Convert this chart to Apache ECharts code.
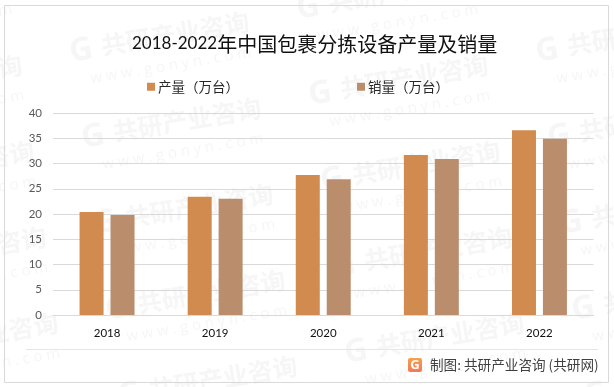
<!DOCTYPE html>
<html>
<head>
<meta charset="utf-8">
<style>html,body{margin:0;padding:0;background:#fff}#c{width:614px;height:387px}</style>
<script src="https://cdn.jsdelivr.net/npm/echarts@6/dist/echarts.min.js"></script>
</head>
<body>
<div id="c"></div>
<script>
const categories = ['2018', '2019', '2020', '2021', '2022'];
const production = [20.4, 23.4, 27.7, 31.7, 36.6];
const sales = [19.8, 23.0, 26.9, 30.9, 34.9];
const nameProduction = '产量（万台）';
const nameSales = '销量（万台）';
const yTicks = { min: 0, max: 40, interval: 5 };
const titleLatin = '2018-2022';
const titleCjk = '年中国包裹分拣设备产量及销量';
const creditText = '制图: 共研产业咨询 (共研网)';
const wmBrand = '共研产业咨询';
const wmSite = 'w w w . g o n y n . c o m';

const CJK = '"Noto Sans CJK SC"';
const chart = echarts.init(document.getElementById('c'), null, { renderer: 'canvas' });

function watermark(x, y) {
  const col = '#f6f6f6';
  return {
    type: 'group', x, y, rotation: 0.165, silent: true, z: -1,
    children: [
      { type: 'text', x: -10, y: -18, style: { text: 'G', font: 'bold 32px "Open Sans"', fill: col } },
      { type: 'text', x: 22, y: -16, style: { text: wmBrand, font: 'bold 25px ' + CJK, fill: col } },
      { type: 'text', x: 6, y: 20, style: { text: wmSite, font: '15px "Open Sans"', fill: col } }
    ]
  };
}
const marks = [];
for (let i = -2; i <= 4; i++) {
  for (let j = -2; j <= 6; j++) {
    const x = 80 + 227 * i + 12 * j;
    const y = 53 - 43 * i + 86 * j;
    if (x > -200 && x < 640 && y > -40 && y < 430) {
      marks.push(watermark(x, y));
    }
  }
}

chart.setOption({
  animation: false,
  backgroundColor: '#fff',
  title: {
    text: '{a|' + titleLatin + '}{b|' + titleCjk + '}',
    left: 127, top: 26,
    textStyle: {
      fontWeight: 'normal',
      rich: {
        a: { fontFamily: 'Lato', fontSize: 17, fontWeight: 'normal', color: '#111', height: 26 },
        b: { fontFamily: CJK, fontSize: 20, fontWeight: 'normal', color: '#111', height: 26 }
      }
    }
  },
  legend: {
    left: 147, top: 80, padding: 0,
    itemWidth: 8, itemHeight: 8, itemGap: 118,
    icon: 'rect',
    textStyle: { fontFamily: CJK, fontSize: 13.5, color: '#262626', padding: [0, 0, 0, -2] },
    data: [nameProduction, nameSales]
  },
  grid: { left: 53, right: 20.5, top: 113, bottom: 72, containLabel: false },
  xAxis: {
    type: 'category', data: categories,
    axisTick: { show: false },
    axisLine: { lineStyle: { color: '#d9d9d9', width: 1 } },
    axisLabel: { fontFamily: 'Lato', fontSize: 11.5, color: '#111', margin: 12 }
  },
  yAxis: {
    type: 'value', min: yTicks.min, max: yTicks.max, interval: yTicks.interval,
    axisLine: { show: false }, axisTick: { show: false },
    splitLine: { lineStyle: { color: '#d9d9d9', width: 1 } },
    axisLabel: { fontFamily: 'Lato', fontSize: 11.5, color: '#595959', margin: 11 }
  },
  series: [
    { name: nameProduction, type: 'bar', data: production, barWidth: 24, barGap: '29%', itemStyle: { color: '#d18b4e' } },
    { name: nameSales, type: 'bar', data: sales, barWidth: 24, itemStyle: { color: '#ba8e6d' } }
  ],
  graphic: [
    ...marks,
    { type: 'rect', silent: true, z: 5, shape: { x: 4.5, y: 5.5, width: 604, height: 377 }, style: { fill: 'none', stroke: '#d9d9d9', lineWidth: 1 } },
    { type: 'line', silent: true, z: 5, shape: { x1: 26, y1: 349.5, x2: 598, y2: 349.5 }, style: { stroke: '#e6e6e6', lineWidth: 1 } },
    { type: 'rect', silent: true, z: 6, shape: { x: 408, y: 358, width: 14, height: 14, r: 2 },
      style: { fill: new echarts.graphic.LinearGradient(0, 0, 0, 1, [{ offset: 0, color: '#f7a14a' }, { offset: 1, color: '#f4775a' }]) } },
    { type: 'text', silent: true, z: 7, x: 415, y: 365, style: { text: 'G', font: 'bold 13px "Open Sans"', fill: '#fff', align: 'center', verticalAlign: 'middle' } },
    { type: 'text', silent: true, z: 6, x: 430, y: 364.5, style: { text: creditText, font: '13.6px ' + CJK, fill: '#404040', verticalAlign: 'middle' } }
  ]
});
</script>
</body>
</html>
